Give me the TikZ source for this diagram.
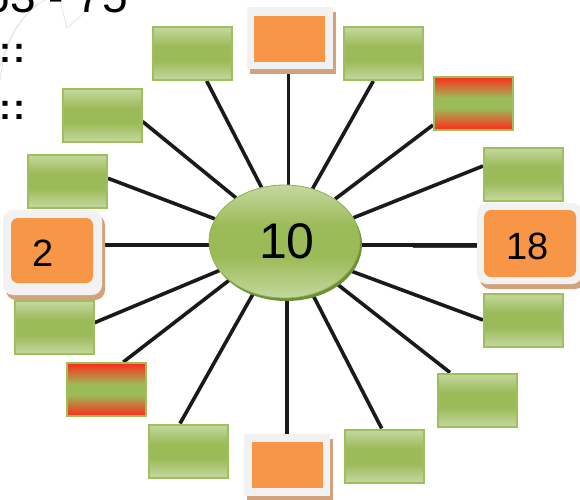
\documentclass[tikz,border=0pt]{standalone}
\usepackage{fontspec}
\setmainfont{Liberation Sans}
\usetikzlibrary{shadows,calc,shapes.geometric}
\definecolor{gl}{HTML}{C4D89F}
\definecolor{gm}{HTML}{9BBB59}
\definecolor{gb}{HTML}{9FBE5E}
\definecolor{rr}{HTML}{FF2A1A}
\definecolor{orng}{HTML}{F79646}
\definecolor{frm}{HTML}{F2F2F2}
\definecolor{shd}{HTML}{D2A27C}
\definecolor{eshd}{HTML}{6E8F36}
\definecolor{eline}{HTML}{8DB14C}
\definecolor{ln}{HTML}{1A1A1A}
\pgfdeclareverticalshading{gshade}{100bp}{color(0bp)=(gl); color(25bp)=(gl); color(43bp)=(gm); color(57bp)=(gm); color(75bp)=(gl); color(100bp)=(gl)}
\pgfdeclareverticalshading{rshade}{100bp}{color(0bp)=(rr); color(25bp)=(rr); color(45bp)=(gm); color(55bp)=(gm); color(75bp)=(rr); color(100bp)=(rr)}
\pgfdeclarelayer{bg}
\pgfsetlayers{bg,main}
\begin{document}
\begin{tikzpicture}[x=1pt,y=-1pt,
  gbox/.style={rectangle, draw=gb, line width=2pt, shading=gshade, minimum width=79pt, minimum height=53pt, inner sep=0pt},
  rbox/.style={gbox, shading=rshade},
  oframe/.style={rectangle, fill=frm, inner sep=0pt, general shadow={fill=shd, shadow xshift=3pt, shadow yshift=-5pt}},
  obox/.style={rectangle, fill=orng, inner sep=0pt},
  numtxt/.style={inner sep=0pt, font=\fontsize{38}{42}\selectfont},
  conn/.style={draw=ln, line width=3.6pt},
  sk/.style={draw=gray!22, line width=0.8pt},
  dots/.style={inner sep=0pt, anchor=base west, font=\bfseries\fontsize{36}{40}\selectfont}
]
\useasboundingbox (0,0) rectangle (580,499);

% faint sketch in the corner
\draw[sk] (0,80) .. controls (5,40) and (20,15) .. (45,0);
\draw[sk] (0,66) .. controls (8,36) and (20,20) .. (36,5);
\draw[sk] (60,0) -- (67,28) -- (85,12);
\node[inner sep=0pt, anchor=base east, font=\fontsize{46}{50}\selectfont] (top) at (128,12) {63 - 75};
\node[dots] (d1) at (-1,62) {:\kern2pt:};
\node[dots] (d2) at (-1,119) {:\kern2pt:};

% centre
\node[ellipse, draw=eline, line width=0.8pt, shading=gshade, minimum width=151pt, minimum height=113pt, inner sep=0pt,
  general shadow={fill=eshd, shadow xshift=2pt, shadow yshift=-3pt}] (e) at (284.5,241.5) {};
\node[inner sep=0pt, font=\fontsize{50}{54}\selectfont] (t10) at (287,241) {10};

% green / red boxes
\node[gbox] (b1) at (192.5,53.5) {};
\node[gbox] (b2) at (383.5,53.5) {};
\node[gbox] (b3) at (102,115.5) {};
\node[rbox] (b4) at (473.5,103) {};
\node[gbox] (b5) at (67.5,181) {};
\node[gbox] (b6) at (523.5,174) {};
\node[gbox] (b7) at (54,327.5) {};
\node[gbox] (b8) at (523.5,320) {};
\node[rbox] (b9) at (106,389.5) {};
\node[gbox] (b10) at (477,400) {};
\node[gbox] (b11) at (188.5,451) {};
\node[gbox] (b12) at (384.5,456) {};

% orange boxes
\node[oframe, minimum width=86pt, minimum height=62pt] (o1f) at (289.8,38) {};
\node[obox, minimum width=71pt, minimum height=46pt] (o1) at (289.5,39) {};
\node[oframe, minimum width=86pt, minimum height=62pt] (o3f) at (287,465) {};
\node[obox, minimum width=71pt, minimum height=46pt] (o3) at (287.5,465) {};
\node[oframe, rounded corners=10pt, minimum width=99pt, minimum height=85pt] (o2f) at (52.5,252.5) {};
\node[obox, rounded corners=7pt, minimum width=82pt, minimum height=65pt] (o2) at (52,250.5) {};
\node[numtxt] (t2) at (43,253) {2};
\node[oframe, rounded corners=10pt, minimum width=105pt, minimum height=81pt] (o4f) at (529.5,243.5) {};
\node[obox, rounded corners=7pt, minimum width=92pt, minimum height=67pt] (o4) at (530,243.5) {};
\node[numtxt] (t18) at (527.5,246) {18};

% connectors
\begin{pgfonlayer}{bg}
\coordinate (l2) at ($(e.center)+(0,3.5)$);
\draw[conn] (e.113) -- ([xshift=14.2pt]b1.south);
\draw[conn] (e.62) -- ([xshift=-10.2pt]b2.south);
\draw[conn] (e.138.2) -- ([yshift=-6pt]b3.east);
\draw[conn] (e.40.9) -- ([yshift=-22pt]b4.west);
\draw[conn] (e.162.9) -- ([yshift=2.7pt]b5.east);
\draw[conn] (e.19.5) -- ([yshift=8pt]b6.west);
\draw[conn] (e.204.8) -- ([yshift=4.8pt]b7.east);
\draw[conn] (e.336.1) -- (b8.west);
\draw[conn] (e.215.2) -- ([xshift=17.3pt]b9.north);
\draw[conn] (e.321.8) -- ([xshift=-27pt]b10.north);
\draw[conn] (e.239.6) -- ([xshift=-8.5pt]b11.north);
\draw[conn] (e.298.2) -- ([xshift=-2.8pt]b12.north);
\draw[conn] ([xshift=-1.5pt]o1f.south) -- ([xshift=-1.5pt]o1f.south |- e.center);
\draw[conn] (o3f.north) -- (o3f.north |- e.center);
\draw[conn] (l2) -- (l2 -| o2f.east);
\draw[draw=red!90!black, line width=1.2pt] ([yshift=-2.4pt]l2 -| o4f.west) -- ++(-64,0);
\draw[conn] (l2) -- (l2 -| o4f.west);
\end{pgfonlayer}
\end{tikzpicture}
\end{document}
